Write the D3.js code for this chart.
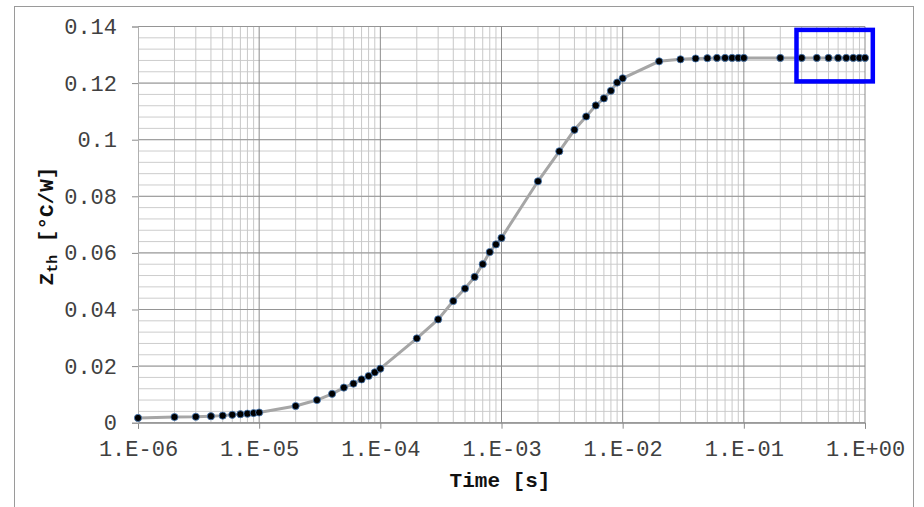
<!DOCTYPE html>
<html lang="en">

<head>
  <meta charset="UTF-8">
  <title>Zth</title>
  <style>
    body { margin: 0; background: #fff; }
    svg text { font-family: 'Courier New', 'Liberation Mono', monospace; }
  </style>
</head>

<body>
  <div id="svg"></div>

  <script src="https://d3js.org/d3.v7.min.js"></script>

  <script>
    // time points [s]
    const times = [
      1e-6, 2e-6, 3e-6, 4e-6, 5e-6, 6e-6, 7e-6, 8e-6, 9e-6, 1e-5,
      2e-5, 3e-5, 4e-5, 5e-5, 6e-5, 7e-5, 8e-5, 9e-5, 1e-4,
      2e-4, 3e-4, 4e-4, 5e-4, 6e-4, 7e-4, 8e-4, 9e-4, 1e-3,
      2e-3, 3e-3, 4e-3, 5e-3, 6e-3, 7e-3, 8e-3, 9e-3, 1e-2,
      2e-2, 3e-2, 4e-2, 5e-2, 6e-2, 7e-2, 8e-2, 9e-2, 1e-1,
      0.2, 0.3, 0.4, 0.5, 0.6, 0.7, 0.8, 0.9, 1
    ]
    // Zth [°C/W]
    const zth = [
      0.0017, 0.0020, 0.0021, 0.0023, 0.0025, 0.0028, 0.0030, 0.0032, 0.0034, 0.0036,
      0.0059, 0.0080, 0.0102, 0.0124, 0.0138, 0.0153, 0.0165, 0.0178, 0.0191,
      0.0298, 0.0365, 0.0430, 0.0474, 0.0515, 0.0560, 0.0603, 0.0630, 0.0653,
      0.0853, 0.0959, 0.1035, 0.1082, 0.1121, 0.1146, 0.1173, 0.1202, 0.1217,
      0.1277, 0.1284, 0.1287, 0.1288, 0.1289, 0.1289, 0.1289, 0.1289, 0.1289,
      0.1289, 0.1289, 0.1289, 0.1289, 0.1289, 0.1289, 0.1289, 0.1289, 0.1289
    ]
    const xTickValues = [1e-6, 1e-5, 1e-4, 1e-3, 1e-2, 1e-1, 1]
    const xTickLabels = ['1.E-06', '1.E-05', '1.E-04', '1.E-03', '1.E-02', '1.E-01', '1.E+00']
    const yTickValues = [0, 0.02, 0.04, 0.06, 0.08, 0.1, 0.12, 0.14]
    const yTickLabels = ['0', '0.02', '0.04', '0.06', '0.08', '0.1', '0.12', '0.14']
    // highlighted region (time range, Zth range)
    const boxTime = [0.272, 1.16]
    const boxZth = [0.1206, 0.1388]

    const width = 924
    const height = 507
    const padding = { top: 26.5, left: 138, bottom: 84.3, right: 59 }

    const svg = d3.select('#svg').append('svg').attr('width', width).attr('height', height)

    // chart frame
    svg.append('rect').attr('x', 14.5).attr('y', 6.5).attr('width', 899).attr('height', 520)
      .attr('fill', '#fff').attr('stroke', '#9a9a9a').attr('stroke-width', 1)

    const xScale = d3.scaleLog().domain([1e-6, 1]).range([padding.left, width - padding.right])
    const yScale = d3.scaleLinear().domain([0, 0.14]).range([height - padding.bottom, padding.top])

    const grid = svg.append('g')
    const minorY = d3.range(0, 0.1401, 0.004)
    grid.selectAll('.hminor').data(minorY).enter().append('line')
      .attr('x1', xScale(1e-6)).attr('x2', xScale(1))
      .attr('y1', d => yScale(d)).attr('y2', d => yScale(d))
      .attr('stroke', '#cdcdcd').attr('stroke-width', 1)

    const xt = xScale.ticks()
    grid.selectAll('.vminor').data(xt.filter(d => !xTickValues.some(v => Math.abs(v - d) / v < 1e-9))).enter().append('line')
      .attr('x1', d => xScale(d)).attr('x2', d => xScale(d))
      .attr('y1', yScale(0)).attr('y2', yScale(0.14))
      .attr('stroke', '#c8c8c8').attr('stroke-width', 1)

    grid.selectAll('.hmajor').data(yTickValues).enter().append('line')
      .attr('x1', xScale(1e-6)).attr('x2', xScale(1))
      .attr('y1', d => yScale(d)).attr('y2', d => yScale(d))
      .attr('stroke', '#959595').attr('stroke-width', 1)

    grid.selectAll('.vmajor').data(xTickValues.slice(1)).enter().append('line')
      .attr('x1', d => xScale(d)).attr('x2', d => xScale(d))
      .attr('y1', yScale(0)).attr('y2', yScale(0.14))
      .attr('stroke', '#8c8c8c').attr('stroke-width', 1)

    // axes
    const xAxis = d3.axisBottom(xScale).tickValues(xTickValues).tickFormat((d, i) => xTickLabels[i]).tickSize(6).tickPadding(12)
    const gX = svg.append('g').attr('transform', `translate(0,${yScale(0)})`).call(xAxis)
    gX.select('.domain').attr('stroke', '#8c8c8c')
    gX.selectAll('.tick line').attr('stroke', '#8c8c8c')
    gX.selectAll('.tick text').attr('font-size', 22).attr('fill', '#404040').attr('font-family', null)

    const yAxis = d3.axisLeft(yScale).tickValues(yTickValues).tickFormat((d, i) => yTickLabels[i]).tickSize(6).tickPadding(15)
    const gY = svg.append('g').attr('transform', `translate(${xScale(1e-6)},0)`).call(yAxis)
    gY.select('.domain').attr('stroke', '#b0b0b0')
    gY.selectAll('.tick line').attr('stroke', '#8c8c8c')
    gY.selectAll('.tick text').attr('font-size', 22).attr('fill', '#404040').attr('font-family', null)

    // axis titles
    svg.append('text').attr('x', 500).attr('y', 487).attr('text-anchor', 'middle')
      .attr('font-size', 21).attr('font-weight', 'bold').attr('fill', '#111').text('Time [s]')

    const yTitle = svg.append('text').attr('transform', 'translate(53,226) rotate(-90)')
      .attr('text-anchor', 'middle').attr('font-size', 21).attr('font-weight', 'bold').attr('fill', '#111')
    yTitle.append('tspan').text('Z')
    yTitle.append('tspan').attr('font-size', 15).attr('dy', 4).text('th')
    yTitle.append('tspan').attr('dy', -4).text(' [°C/W]')

    // series
    const points = times.map((t, i) => [t, zth[i]])
    const line = d3.line().x(d => xScale(d[0])).y(d => yScale(d[1]))
    svg.append('path').datum(points).attr('d', line)
      .attr('fill', 'none').attr('stroke', '#a6a6a6').attr('stroke-width', 3)

    svg.selectAll('.pt').data(points).enter().append('circle')
      .attr('cx', d => xScale(d[0])).attr('cy', d => yScale(d[1])).attr('r', 3.6)
      .attr('fill', '#000').attr('stroke', '#4a7ebb').attr('stroke-width', 0.8)

    // highlight box
    svg.append('rect')
      .attr('x', xScale(boxTime[0])).attr('y', yScale(boxZth[1]))
      .attr('width', xScale(boxTime[1]) - xScale(boxTime[0]))
      .attr('height', yScale(boxZth[0]) - yScale(boxZth[1]))
      .attr('fill', 'none').attr('stroke', '#0000ff').attr('stroke-width', 4.5)
  </script>
</body>

</html>
